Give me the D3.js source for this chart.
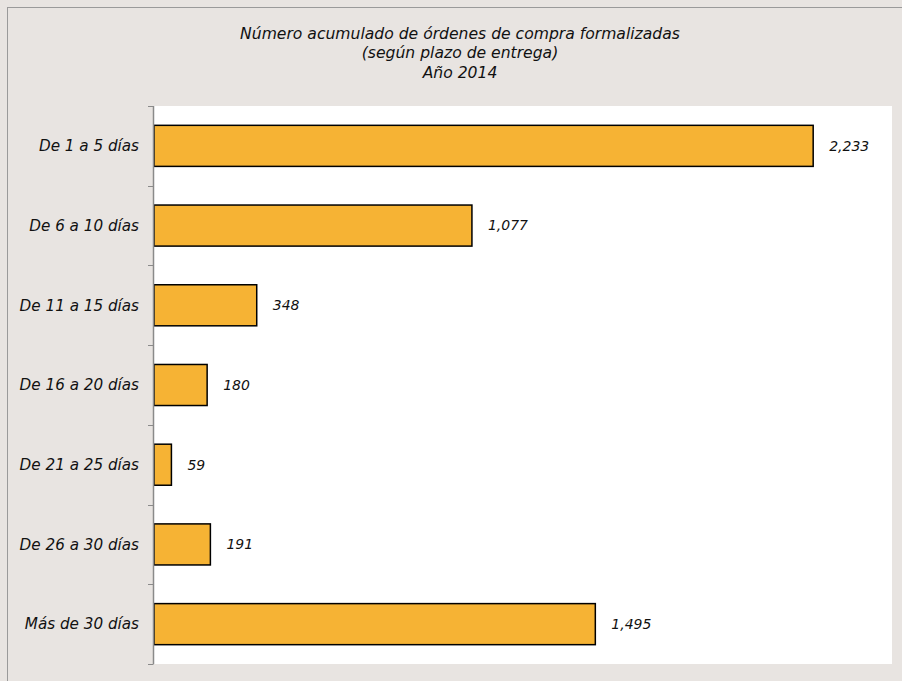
<!DOCTYPE html>
<html>
<head>
<meta charset="utf-8">
<script src="https://cdn.jsdelivr.net/npm/d3@7"></script>
<style>
  html, body { margin: 0; padding: 0; background: #e8e4e1; }
  svg { display: block; }
  text { font-family: "DejaVu Sans", sans-serif; font-style: italic; fill: #111; }
</style>
</head>
<body>
<script>
const categories = ["De 1 a 5 días", "De 6 a 10 días", "De 11 a 15 días", "De 16 a 20 días", "De 21 a 25 días", "De 26 a 30 días", "Más de 30 días"];
const values = [2233, 1077, 348, 180, 59, 191, 1495];
const titleLines = ["Número acumulado de órdenes de compra formalizadas", "(según plazo de entrega)", "Año 2014"];
const xMax = 2500;

const W = 902, H = 681;
const plot = { left: 154, right: 892, top: 106, bottom: 664 };

const svg = d3.select("body").append("svg").attr("width", W).attr("height", H);

svg.append("rect").attr("x", 0).attr("y", 0).attr("width", W).attr("height", H).attr("fill", "#e8e4e1");
svg.append("rect").attr("x", 7.5).attr("y", 7.5).attr("width", W + 10).attr("height", H + 10)
  .attr("fill", "none").attr("stroke", "#9a9a9a").attr("stroke-width", 1);

svg.append("rect").attr("x", plot.left).attr("y", plot.top)
  .attr("width", plot.right - plot.left).attr("height", plot.bottom - plot.top).attr("fill", "#ffffff");

const x = d3.scaleLinear().domain([0, xMax]).range([plot.left, plot.right]);
const y = d3.scaleBand().domain(categories).range([plot.top, plot.bottom]).paddingInner(0.485).paddingOuter(0.2425);

// bars
svg.append("g").selectAll("rect").data(values).join("rect")
  .attr("x", x(0))
  .attr("y", (d, i) => y(categories[i]))
  .attr("width", d => x(d) - x(0))
  .attr("height", y.bandwidth())
  .attr("fill", "#f6b334")
  .attr("stroke", "#000")
  .attr("stroke-width", 1.5);

// value labels
svg.append("g").selectAll("text").data(values).join("text")
  .attr("x", d => x(d) + 16)
  .attr("y", (d, i) => y(categories[i]) + y.bandwidth() / 2)
  .attr("dy", "0.35em")
  .attr("font-size", 14)
  .text(d => d3.format(",")(d));

// y axis
const yTicks = d3.range(categories.length + 1).map(i => plot.top + i * (plot.bottom - plot.top) / categories.length);
const axisG = svg.append("g");
axisG.append("line").attr("x1", plot.left - 0.5).attr("x2", plot.left - 0.5)
  .attr("y1", plot.top).attr("y2", plot.bottom).attr("stroke", "#8a8a8a").attr("stroke-width", 1.5);
axisG.selectAll("line.tick").data(yTicks).join("line").attr("class", "tick")
  .attr("x1", plot.left - 6).attr("x2", plot.left - 0.5)
  .attr("y1", d => Math.round(d) + 0.5).attr("y2", d => Math.round(d) + 0.5)
  .attr("stroke", "#8a8a8a").attr("stroke-width", 1);

svg.append("g").selectAll("text").data(categories).join("text")
  .attr("x", 139)
  .attr("y", d => y(d) + y.bandwidth() / 2)
  .attr("dy", "0.35em")
  .attr("text-anchor", "end")
  .attr("font-size", 15.2)
  .text(d => d);

// title
svg.append("g").selectAll("text").data(titleLines).join("text")
  .attr("x", 460)
  .attr("y", (d, i) => 38.5 + i * 19.8)
  .attr("text-anchor", "middle")
  .attr("font-size", 15.6)
  .text(d => d);
</script>
</body>
</html>
